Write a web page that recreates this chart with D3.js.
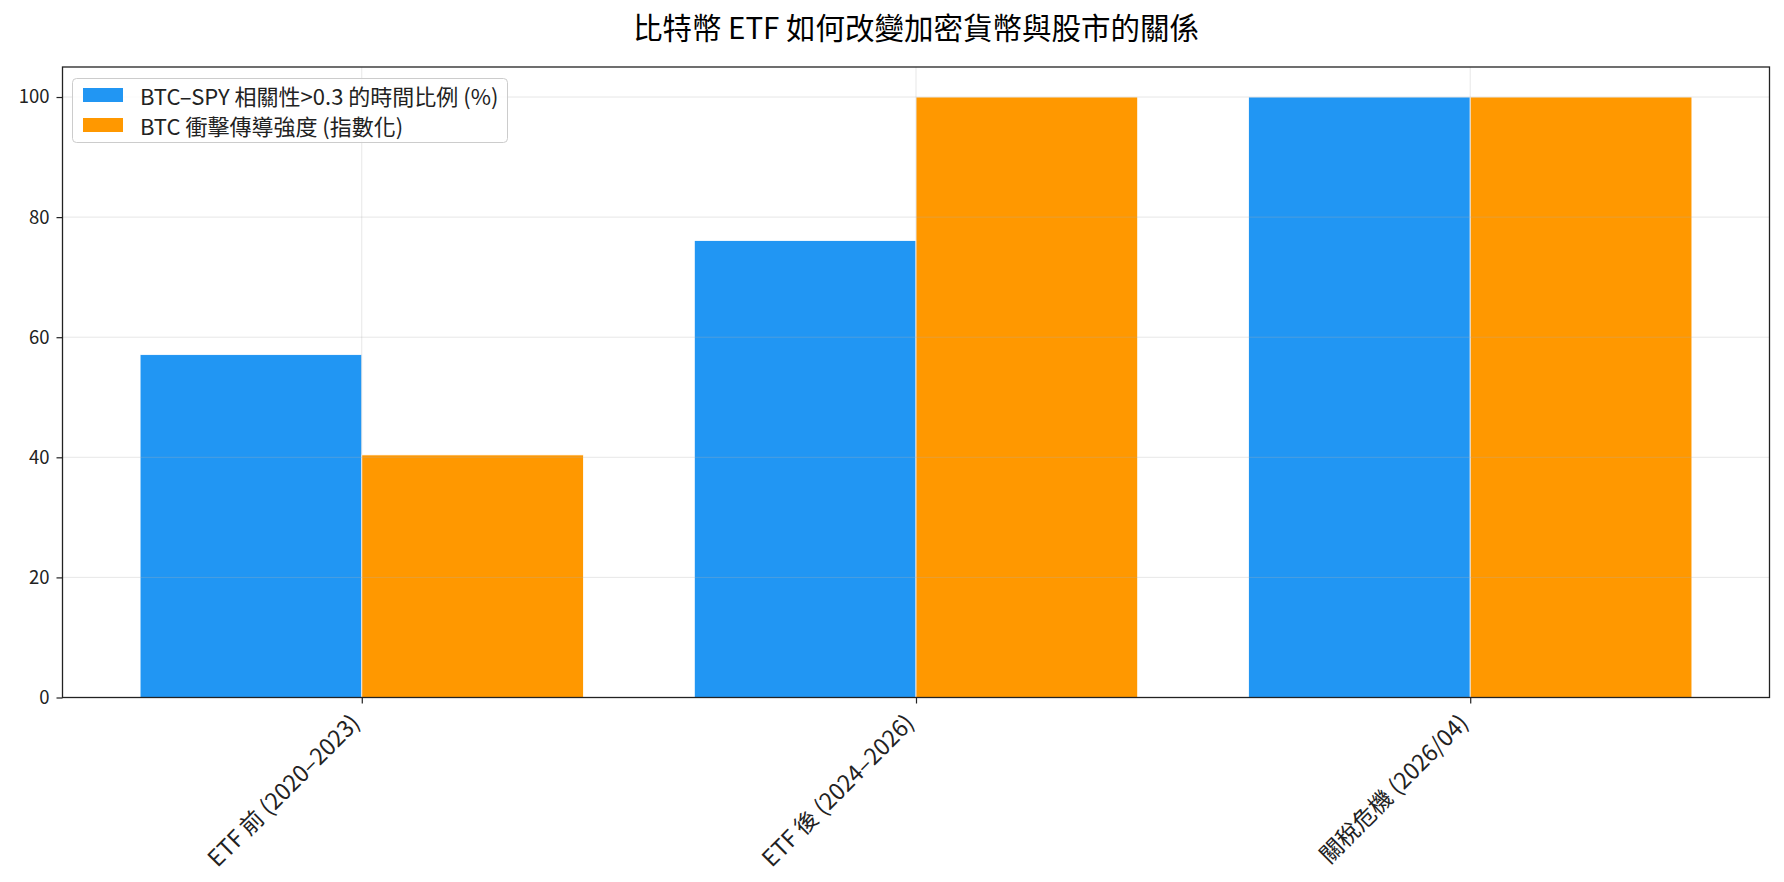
<!DOCTYPE html>
<html><head><meta charset="utf-8">
<script src="https://cdn.jsdelivr.net/npm/d3@7"></script>
<style>body{margin:0;background:#fff;} svg{display:block;}</style>
</head><body>
<svg id="c" width="1784" height="882"></svg>
<script>
const title = "比特幣 ETF 如何改變加密貨幣與股市的關係";
const categories = ["ETF 前 (2020–2023)", "ETF 後 (2024–2026)", "關稅危機 (2026/04)"];
const seriesNames = ["BTC–SPY 相關性>0.3 的時間比例 (%)", "BTC 衝擊傳導強度 (指數化)"];
const corrShare = [57.1, 76.1, 100];
const shockIndex = [40.4, 100, 100];
const yTicks = [0, 20, 40, 60, 80, 100];
const colors = ["#2196F3", "#FF9800"];

const FONT = "'Noto Sans CJK TC','Noto Sans',sans-serif";
const svg = d3.select("#c");
const L = 62.5, R = 1769.5, T = 67, B = 697.5;

const x = d3.scaleLinear().domain([-0.54, 2.54]).range([L, R]);
const y = d3.scaleLinear().domain([0, 105]).range([B, T]);
const bw = 0.4;

svg.append("text").attr("x", (L+R)/2).attr("y", 26).attr("text-anchor","middle")
  .attr("dominant-baseline","central").style("font-family",FONT).style("font-size","29.5px")
  .attr("fill","#000").text(title);

const series = [corrShare, shockIndex];
series.forEach((vals, s) => {
  svg.append("g").selectAll("rect").data(vals).join("rect")
    .attr("x", (d,i) => x(i + (s===0 ? -bw : 0)))
    .attr("width", (d,i) => x(i + bw) - x(i))
    .attr("y", d => y(d))
    .attr("height", d => y(0) - y(d))
    .attr("fill", colors[s])
    .attr("stroke", "#fff").attr("stroke-width", 0.8);
});

// grid (drawn above bars, translucent)
const grid = svg.append("g").attr("stroke","#b0b0b0").attr("stroke-opacity",0.3).attr("stroke-width",1);
yTicks.forEach(t => grid.append("line").attr("x1",L).attr("x2",R).attr("y1",y(t)).attr("y2",y(t)));
categories.forEach((c,i) => grid.append("line").attr("x1",x(i)).attr("x2",x(i)).attr("y1",T).attr("y2",B));

// y axis
const yAxis = d3.axisLeft(y).tickValues(yTicks).tickSize(6).tickPadding(7).tickFormat(d3.format("d"));
const gy = svg.append("g").attr("transform",`translate(${L},0)`).call(yAxis);
gy.select(".domain").remove();
gy.selectAll("line").attr("stroke","#222").attr("stroke-width",1.2);
gy.selectAll("text").style("font-family",FONT).style("font-size","18.5px").attr("fill","#222");

// x axis
const xAxis = d3.axisBottom(x).tickValues(d3.range(categories.length)).tickSize(6).tickFormat(i => categories[i]);
const gx = svg.append("g").attr("transform",`translate(0,${B})`).call(xAxis);
gx.select(".domain").remove();
gx.selectAll("line").attr("stroke","#222").attr("stroke-width",1.2);
gx.selectAll("text")
  .style("font-family",FONT).style("font-size","23px").attr("fill","#222")
  .attr("text-anchor","end").attr("dominant-baseline","central")
  .attr("dy",null).attr("x",-8).attr("y",20)
  .attr("transform","rotate(-45,-8,20)");

// frame
svg.append("rect").attr("x",L).attr("y",T).attr("width",R-L).attr("height",B-T)
  .attr("fill","none").attr("stroke","#222").attr("stroke-width",1.3);

// legend
const lg = svg.append("g");
lg.append("rect").attr("x",72.5).attr("y",78.5).attr("width",435).attr("height",64).attr("rx",4)
  .attr("fill","#fff").attr("fill-opacity",0.8).attr("stroke","#ccc").attr("stroke-width",1);
seriesNames.forEach((n,s) => {
  const cy = 95 + s*30;
  lg.append("rect").attr("x",83).attr("y",cy-7).attr("width",40).attr("height",14).attr("fill",colors[s]);
  lg.append("text").attr("x",140).attr("y",cy).attr("dominant-baseline","central")
    .style("font-family",FONT).style("font-size","22px").attr("fill","#222").text(n);
});
</script>
</body></html>
